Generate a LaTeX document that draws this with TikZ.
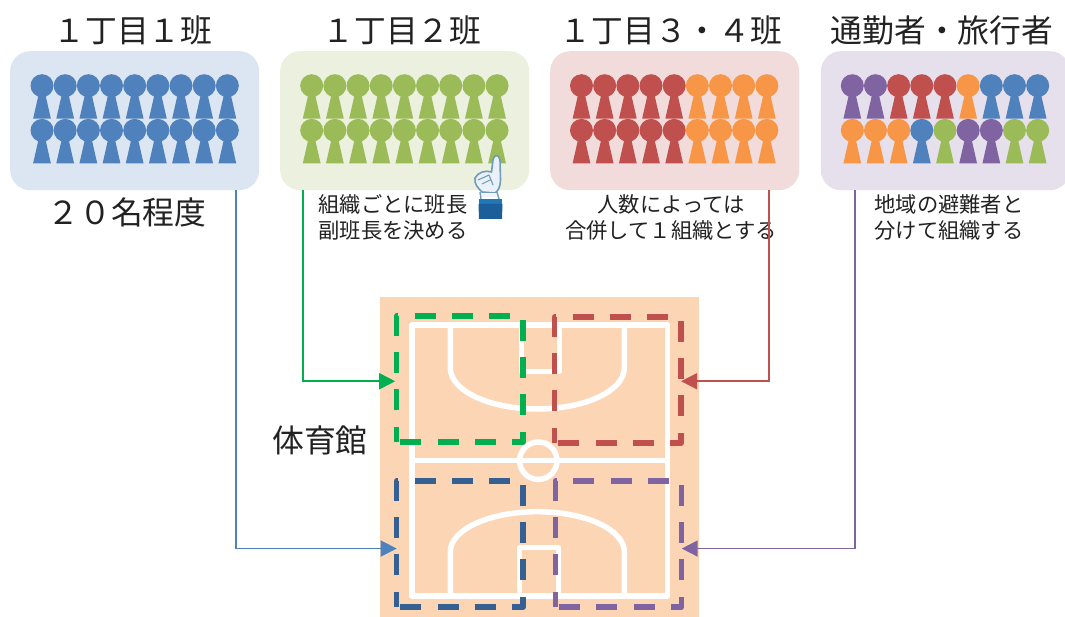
\documentclass[tikz,border=0pt]{standalone}
\usepackage{fontspec}
\setmainfont{Noto Sans CJK JP}
\usetikzlibrary{arrows.meta}
\definecolor{cblue}{HTML}{4F81BD}
\definecolor{cgreen}{HTML}{9BBB59}
\definecolor{cred}{HTML}{C0504D}
\definecolor{corange}{HTML}{F79646}
\definecolor{cpurple}{HTML}{8064A2}
\definecolor{bblue}{HTML}{DCE6F2}
\definecolor{bgreen}{HTML}{EBF1DE}
\definecolor{bred}{HTML}{F2DCDB}
\definecolor{bpurple}{HTML}{E6E0EC}
\definecolor{court}{HTML}{FCD5B5}
\definecolor{zgreen}{HTML}{00B050}
\definecolor{znavy}{HTML}{376092}
\definecolor{tcol}{HTML}{222222}
\definecolor{handline}{HTML}{6F9DB8}
\definecolor{cuffa}{HTML}{1F78B8}
\definecolor{cuffb}{HTML}{1C5E9A}
\newcommand{\pers}[3]{%
  \fill[#3] (#1,#2) circle (11.5);
  \fill[#3] (#1-3.2,#2+8) -- (#1+3.2,#2+8) -- (#1+8.9,#2+33) -- (#1-8.9,#2+33) -- cycle;}
\newcommand{\prow}[3]{%
  \foreach \c [count=\i from 0] in {#3} {\pers{#1+23.17*\i}{#2}{\c}}}
\tikzset{
  panel/.style={rounded corners=20, minimum width=#1, minimum height=139, inner sep=0, anchor=north west},
  title/.style={font=\fontsize{31.8}{34}\selectfont, text=tcol, inner sep=0},
  note/.style={font=\fontsize{21.3}{26.5}\selectfont, text=tcol, inner sep=0, align=center},
  zone/.style={minimum width=#1, minimum height=125.7, inner sep=0, anchor=north west},
  zoneline/.style={line width=5.5, line join=round, dash pattern=on 21 off 16.4, dash phase=5.7},
  conn/.style={line width=1.7, -{Triangle[length=16,width=16]}},
  courtline/.style={line width=5.5, white, line join=round}
}
\begin{document}
\begin{tikzpicture}[x=1pt,y=-1pt]
\useasboundingbox (0,0) rectangle (1065,617);
\fill[white] (0,0) rectangle (1065,617);
% panels
\node[panel=249, fill=bblue] (p1) at (10,51) {};
\node[panel=249, fill=bgreen] (p2) at (280,51) {};
\node[panel=249, fill=bred] (p3) at (550,51) {};
\node[panel=249, fill=bpurple] (p4) at (820.7,51) {};
% people
\prow{42}{85.7}{cblue,cblue,cblue,cblue,cblue,cblue,cblue,cblue,cblue}
\prow{42}{130.4}{cblue,cblue,cblue,cblue,cblue,cblue,cblue,cblue,cblue}
\prow{311.7}{85.7}{cgreen,cgreen,cgreen,cgreen,cgreen,cgreen,cgreen,cgreen,cgreen}
\prow{311.7}{130.4}{cgreen,cgreen,cgreen,cgreen,cgreen,cgreen,cgreen,cgreen,cgreen}
\prow{581.5}{85.7}{cred,cred,cred,cred,cred,corange,corange,corange,corange}
\prow{581.5}{130.4}{cred,cred,cred,cred,cred,corange,corange,corange,corange}
\prow{852.3}{85.7}{cpurple,cpurple,cred,cred,cred,corange,cblue,cblue,cblue}
\prow{852.3}{130.4}{corange,corange,corange,cblue,cgreen,cpurple,cpurple,cgreen,cgreen}
% texts
\node[title] (t1) at (133,30) {１丁目１班};
\node[title] (t2) at (402,30) {１丁目２班};
\node[title] (t3) at (671,30) {１丁目３・４班};
\node[title] (t4) at (942,30) {通勤者・旅行者};
\node[title] (t5) at (127,212) {２０名程度};
\node[note] (n2) at (393,217.5) {組織ごとに班長\\副班長を決める};
\node[note] (n3) at (671,217.5) {人数によっては\\合併して１組織とする};
\node[note] (n4) at (949,217.5) {地域の避難者と\\分けて組織する};
\node[title] (t6) at (320,440) {体育館};
% court
\fill[court] (380,297) rectangle (699,617);
\draw[courtline] (412,325) rectangle (667.3,596);
\draw[courtline] (412,460.7) -- (667.3,460.7);
\draw[courtline] (538.3,460.7) circle (18.7);
\draw[courtline] (521.7,325) -- (521.7,371.7) -- (559.3,371.7) -- (559.3,325);
\draw[courtline] (519.7,596) -- (519.7,547.7) -- (558.3,547.7) -- (558.3,596);
\draw[courtline] (450.3,325) -- (450.3,368) arc[start angle=180, end angle=0, x radius=87, y radius=41] -- (624.3,325);
\draw[courtline] (450.3,596) -- (450.3,551.7) arc[start angle=180, end angle=0, x radius=87, y radius=-40] -- (624.3,596);
% zones
\node[zone=126] (z1) at (396.7,316) {};
\node[zone=126] (z2) at (554.7,317) {};
\node[zone=126] (z3) at (396.7,481) {};
\node[zone=126] (z4) at (555.3,481) {};
\foreach \z/\c in {z1/zgreen,z2/cred,z3/znavy,z4/cpurple}{
  \draw[zoneline,draw=\c] (\z.south west) -- (\z.north west) -- (\z.north east) -- (\z.south east) -- cycle;
}
% connectors
\draw[conn,color=cblue] ([xshift=101.5]p1.south) |- ([yshift=-4.5]z3.west);
\draw[conn,color=zgreen] ([xshift=-101.5]p2.south) |- ([xshift=-1.5,yshift=-2.2]z1.west);
\draw[conn,color=cred] ([xshift=94.5]p3.south) |- ([yshift=-1.2]z2.east);
\draw[conn,color=cpurple] ([xshift=-90.2]p4.south) |- ([yshift=-4.5]z4.east);
% hand
\filldraw[line width=1.6, draw=handline, fill=bblue!60!white, line join=round]
  (491.5,172) -- (493,160) .. controls (494,154) and (499,154) .. (500,160) -- (500.5,180)
  .. controls (500.5,187) and (498,191) .. (495,193) -- (482,192)
  .. controls (478,188) and (474,184) .. (475,178) .. controls (478,172) and (486,170) .. (491.5,172) -- cycle;
\draw[line width=1.1, handline] (478,180) -- (489,175) (482,184) -- (490,180) (489,175) -- (493,185);
\fill[bblue!40!white] (481,193) rectangle (497,197);
\draw[line width=1.4, handline] (480,192) -- (481,199) (497,192) -- (499,199);
\fill[cuffa] (479,199) rectangle (502,204);
\fill[cuffb] (478.5,204) -- (502.5,204) -- (502,219) -- (479,219) -- cycle;
\end{tikzpicture}
\end{document}
